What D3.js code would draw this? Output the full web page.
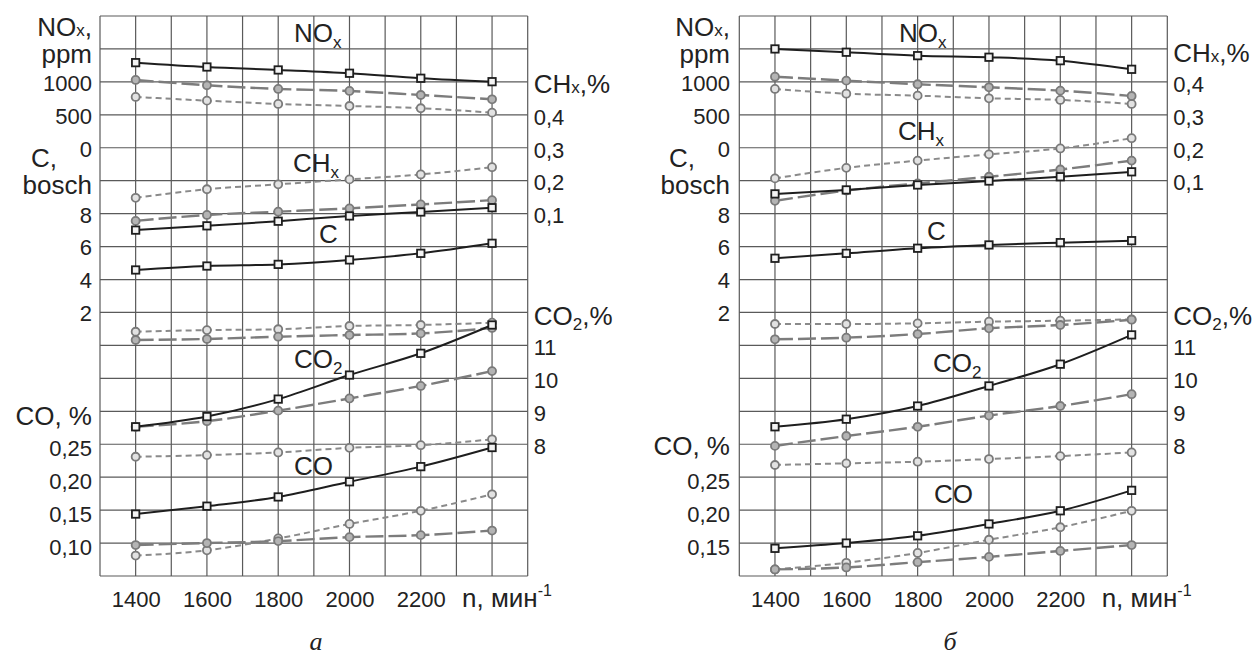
<!DOCTYPE html>
<html lang="ru">
<head>
  <meta charset="UTF-8">
  <title>NOx, CHx, C, CO2, CO vs n</title>
  <script src="https://d3js.org/d3.v7.min.js"></script>
  <style>
    body { margin: 0; background: #fff; }
    svg { display: block; font-family: "Liberation Sans", Arial, sans-serif; fill: #222; }
    .grid line { stroke: #5a5a5a; stroke-width: 1.2; }
    .tick text { font-size: 22px; fill: #222; }
    .lbl { font-size: 26px; fill: #222; }
    .glbl { font-size: 26px; fill: #222; }
  </style>
</head>
<body>
  <svg width="1255" height="658"></svg>

  <script>
    // engine speed, min^-1
    const rpm = [1400, 1600, 1800, 2000, 2200, 2400];
    const xTickLabels = [1400, 1600, 1800, 2000, 2200];

    // every quantity: [solid, long dash, short dash]
    const noxA = [
      [1292, 1226, 1181, 1131, 1055, 1003],
      [1029, 949, 893, 862, 801, 736],
      [771, 715, 665, 634, 600, 533]
    ];
    const chxA = [
      [0.050, 0.063, 0.077, 0.093, 0.105, 0.118],
      [0.078, 0.096, 0.106, 0.116, 0.128, 0.141],
      [0.148, 0.174, 0.189, 0.204, 0.219, 0.241]
    ];
    const cA = [
      [4.58, 4.82, 4.92, 5.19, 5.59, 6.20],
      [0.33, 0.39, 0.53, 0.63, 0.73, 1.06],
      [0.83, 0.93, 0.98, 1.18, 1.24, 1.38]
    ];
    const co2A = [
      [8.53, 8.84, 9.37, 10.10, 10.76, 11.62],
      [8.53, 8.70, 9.02, 9.39, 9.77, 10.22],
      [7.62, 7.67, 7.75, 7.89, 7.97, 8.15]
    ];
    const coA = [
      [0.144, 0.156, 0.170, 0.193, 0.216, 0.245],
      [0.097, 0.100, 0.103, 0.109, 0.112, 0.119],
      [0.081, 0.089, 0.107, 0.129, 0.149, 0.174]
    ];

    const noxB = [
      [1500, 1450, 1398, 1374, 1322, 1191],
      [1079, 1019, 964, 918, 867, 786],
      [893, 821, 791, 751, 726, 665]
    ];
    const chxB = [
      [0.060, 0.072, 0.087, 0.099, 0.112, 0.127],
      [0.039, 0.070, 0.092, 0.112, 0.134, 0.161],
      [0.107, 0.139, 0.161, 0.180, 0.198, 0.229]
    ];
    const cB = [
      [5.29, 5.59, 5.90, 6.10, 6.24, 6.36],
      [0.37, 0.47, 0.69, 1.04, 1.24, 1.56],
      [1.30, 1.30, 1.34, 1.44, 1.50, 1.58]
    ];
    const co2B = [
      [8.53, 8.76, 9.16, 9.77, 10.43, 11.32],
      [7.95, 8.25, 8.53, 8.87, 9.16, 9.52],
      [7.37, 7.42, 7.47, 7.55, 7.64, 7.75]
    ];
    const coB = [
      [0.142, 0.150, 0.161, 0.179, 0.199, 0.230],
      [0.110, 0.113, 0.121, 0.129, 0.138, 0.147],
      [0.110, 0.120, 0.135, 0.155, 0.174, 0.199]
    ];

    // tick labels
    const noxTicks = [0, 500, 1000];
    const cTicks = [2, 4, 6, 8];
    const chxTicks = [0.1, 0.2, 0.3, 0.4];
    const co2Ticks = [8, 9, 10, 11];
    const coTicksA = [0.10, 0.15, 0.20, 0.25];
    const coTicksB = [0.15, 0.20, 0.25];

    const svg = d3.select("svg");
    const plotTop = 16, plotBottom = 576, rows = 17;
    const rowY = d3.scaleLinear().domain([0, rows]).range([plotTop, plotBottom]);

    const styles = [
      { dash: null, stroke: "#1e1e1e", width: 2, marker: "square" },
      { dash: "18,5", stroke: "#7c7c7c", width: 2.4, marker: "circle", fill: "#b4b4b4" },
      { dash: "6,4", stroke: "#8a8a8a", width: 2, marker: "circle", fill: "#e2e2e2" }
    ];

    const comma = f => v => d3.format(f)(v).replace(".", ",");

    function drawPanel(p) {
      const x = d3.scaleLinear().domain([1300, 2500]).range([p.left, p.right]);
      const g = svg.append("g");

      // grid
      const grid = g.append("g").attr("class", "grid");
      grid.selectAll(".v").data(d3.range(1300, 2501, 100)).enter().append("line")
        .attr("x1", d => x(d)).attr("x2", d => x(d))
        .attr("y1", plotTop).attr("y2", plotBottom);
      grid.selectAll(".h").data(d3.range(0, rows + 1)).enter().append("line")
        .attr("x1", p.left).attr("x2", p.right)
        .attr("y1", d => rowY(d)).attr("y2", d => rowY(d));

      // y scales, anchored on grid rows
      const yNox = d3.scaleLinear().domain([0, 1000]).range([rowY(4), rowY(2)]);
      const yC = d3.scaleLinear().domain([2, 8]).range([rowY(9), rowY(6)]);
      const yChx = d3.scaleLinear().domain([0.1, 0.4]).range([rowY(p.chxRow), rowY(p.chxRow - 3)]);
      const yCo2 = d3.scaleLinear().domain([8, 11]).range([rowY(13), rowY(10)]);
      const yCo = d3.scaleLinear().domain([0.15, 0.25]).range([rowY(p.coRow), rowY(p.coRow - 2)]);

      // left axes
      const leftAxis = (scale, ticks, fmt) => {
        const a = g.append("g").attr("transform", `translate(${p.labelLeft},0)`)
          .call(d3.axisLeft(scale).tickValues(ticks).tickFormat(fmt).tickSize(0).tickPadding(0));
        a.select(".domain").remove();
        a.selectAll("text").attr("dy", "0.38em");
        return a;
      };
      leftAxis(yNox, noxTicks, d3.format("d"));
      leftAxis(yC, cTicks, d3.format("d"));
      const coAx = leftAxis(yCo, p.coTicks, comma(".2f"));
      coAx.selectAll("text").attr("dy", "0.5em");

      const rightAxis = (scale, ticks, fmt) => {
        const a = g.append("g").attr("transform", `translate(${p.right + 6},0)`)
          .call(d3.axisRight(scale).tickValues(ticks).tickFormat(fmt).tickSize(0).tickPadding(0));
        a.select(".domain").remove();
        a.selectAll("text").attr("dy", "0.42em");
      };
      rightAxis(yChx, chxTicks, comma(".1f"));
      rightAxis(yCo2, co2Ticks, d3.format("d"));

      // x axis
      const xa = g.append("g").attr("transform", `translate(0,${plotBottom})`)
        .call(d3.axisBottom(x).tickValues(xTickLabels).tickFormat(d3.format("d")).tickSize(0).tickPadding(15));
      xa.select(".domain").remove();

      const xl = g.append("text").attr("class", "lbl")
        .attr("x", x(2400) - 30).attr("y", 607);
      xl.append("tspan").text("n, мин");
      xl.append("tspan").attr("font-size", 16).attr("dy", -11).text("-1");

      // axis titles, left
      const L = p.labelLeft;
      g.append("text").attr("class", "lbl").attr("text-anchor", "end").attr("x", L).attr("y", 36)
        .html('NO<tspan font-size="17">x</tspan>,');
      g.append("text").attr("class", "lbl").attr("text-anchor", "end").attr("x", L).attr("y", 63).text("ppm");
      g.append("text").attr("class", "lbl").attr("text-anchor", "end").attr("x", L - 35).attr("y", 167).text("C,");
      g.append("text").attr("class", "lbl").attr("text-anchor", "end").attr("x", L).attr("y", 194).text("bosch");
      g.append("text").attr("class", "lbl").attr("text-anchor", "end").attr("x", L).attr("y", p.coTitleY).text("CO, %");

      // axis titles, right
      const R = p.right + 6;
      g.append("text").attr("class", "lbl").attr("x", R).attr("y", p.chxTitleY)
        .html('CH<tspan font-size="17">x</tspan>,%');
      g.append("text").attr("class", "lbl").attr("x", R).attr("y", 325)
        .html('CO<tspan font-size="17" dy="5">2</tspan><tspan dy="-5">,%</tspan>');

      // group labels inside the plot
      p.labels.forEach(([gx, gy, main, sub]) => {
        const tt = g.append("text").attr("class", "glbl").attr("x", gx).attr("y", gy);
        tt.append("tspan").text(main);
        if (sub) tt.append("tspan").attr("font-size", 17).attr("dy", 6).text(sub);
      });

      // series
      const sets = [
        [p.nox, yNox], [p.chx, yChx], [p.c, yC], [p.co2, yCo2], [p.co, yCo]
      ];
      const line = y => d3.line().x((d, i) => x(rpm[i])).y(d => y(d)).curve(d3.curveMonotoneX);

      [2, 1, 0].forEach(si => {
        const s = styles[si];
        sets.forEach(([vals, y]) => {
          g.append("path").datum(vals[si])
            .attr("d", line(y))
            .attr("fill", "none")
            .attr("stroke", s.stroke)
            .attr("stroke-width", s.width)
            .attr("stroke-dasharray", s.dash);

          if (s.marker === "square") {
            g.selectAll(null).data(vals[si]).enter().append("rect")
              .attr("x", (d, i) => x(rpm[i]) - 3.7).attr("y", d => y(d) - 3.7)
              .attr("width", 7.4).attr("height", 7.4)
              .attr("fill", "#f4f4f4").attr("stroke", "#1e1e1e").attr("stroke-width", 1.8);
          } else {
            g.selectAll(null).data(vals[si]).enter().append("circle")
              .attr("cx", (d, i) => x(rpm[i])).attr("cy", d => y(d))
              .attr("r", 4)
              .attr("fill", s.fill).attr("stroke", "#7a7a7a").attr("stroke-width", 1.8);
          }
        });
      });

      // panel caption
      svg.append("text")
        .attr("x", p.captionX).attr("y", 650)
        .attr("text-anchor", "middle")
        .attr("font-family", "'Liberation Serif', 'DejaVu Serif', serif")
        .attr("font-style", "italic")
        .attr("font-size", 26)
        .text(p.caption);
    }

    drawPanel({
      left: 100, right: 527.7, labelLeft: 92,
      nox: noxA, chx: chxA, c: cA, co2: co2A, co: coA,
      chxRow: 6, coRow: 15, coTicks: coTicksA,
      coTitleY: 425, chxTitleY: 93,
      labels: [[294, 42, "NO", "x"], [293, 172, "CH", "x"], [319, 243, "C"], [294, 368, "CO", "2"], [294, 475, "CO"]],
      caption: "а", captionX: 316
    });

    drawPanel({
      left: 739.3, right: 1167.3, labelLeft: 730,
      nox: noxB, chx: chxB, c: cB, co2: co2B, co: coB,
      chxRow: 5, coRow: 16, coTicks: coTicksB,
      coTitleY: 455, chxTitleY: 62,
      labels: [[899, 42, "NO", "x"], [898, 140, "CH", "x"], [927, 240, "C"], [933, 372, "CO", "2"], [934, 503, "CO"]],
      caption: "б", captionX: 950
    });
  </script>
</body>
</html>
